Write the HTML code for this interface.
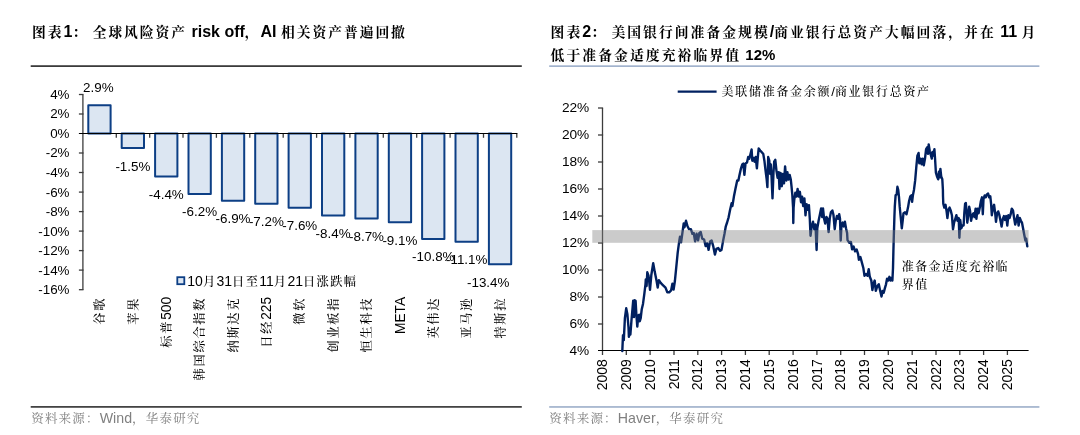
<!DOCTYPE html>
<html lang="zh-CN"><head><meta charset="utf-8"><title>图表</title>
<style>html,body{margin:0;padding:0;background:#fff;}body{width:1080px;height:435px;overflow:hidden;}svg{display:block;}text{font-family:"Liberation Sans", "Noto Serif CJK SC", sans-serif;}.t{font-weight:bold;fill:#000;}.ax{font-size:13.4px;fill:#000;}.dl{font-size:13.4px;fill:#000;}.src{fill:#808080;}.cat{fill:#000;font-weight:500;}</style></head><body>
<svg width="1080" height="435" viewBox="0 0 1080 435">
<rect width="1080" height="435" fill="#fff"/>
<text class="t" x="32.1" y="37" xml:space="preserve"><tspan font-size="13.8px" letter-spacing="1.93px">图表</tspan><tspan font-size="16px">1</tspan><tspan font-size="13.8px" letter-spacing="1.93px">：</tspan><tspan font-size="16px"> </tspan><tspan font-size="13.8px" letter-spacing="1.93px">全球风险资产</tspan><tspan font-size="16px"> risk off</tspan><tspan font-size="13.8px" letter-spacing="1.93px">，</tspan><tspan font-size="16px">AI </tspan><tspan font-size="13.8px" letter-spacing="1.93px">相关资产普遍回撤</tspan></text>
<rect x="30.7" y="65.3" width="491.1" height="1.6" fill="#262626"/>
<rect x="30.7" y="406.1" width="491.1" height="1.6" fill="#303030"/>
<text class="src" x="31.2" y="423.3" xml:space="preserve"><tspan font-size="12.5px" letter-spacing="1.2px">资料来源：</tspan><tspan font-size="14.2px">Wind</tspan><tspan font-size="12.5px" letter-spacing="1.2px">，华泰研究</tspan></text>
<text class="ax" x="69.5" y="98.9" text-anchor="end">4%</text>
<text class="ax" x="69.5" y="118.4" text-anchor="end">2%</text>
<text class="ax" x="69.5" y="137.9" text-anchor="end">0%</text>
<text class="ax" x="69.5" y="157.4" text-anchor="end">-2%</text>
<text class="ax" x="69.5" y="176.9" text-anchor="end">-4%</text>
<text class="ax" x="69.5" y="196.5" text-anchor="end">-6%</text>
<text class="ax" x="69.5" y="216.0" text-anchor="end">-8%</text>
<text class="ax" x="69.5" y="235.5" text-anchor="end">-10%</text>
<text class="ax" x="69.5" y="255.0" text-anchor="end">-12%</text>
<text class="ax" x="69.5" y="274.5" text-anchor="end">-14%</text>
<text class="ax" x="69.5" y="294.1" text-anchor="end">-16%</text>
<g fill="#dce6f2" stroke="#0d3f85" stroke-width="2" stroke-linejoin="round">
<rect x="88.3" y="105.2" width="22.3" height="28.3"/>
<rect x="121.7" y="133.5" width="22.3" height="14.6"/>
<rect x="155.1" y="133.5" width="22.3" height="42.9"/>
<rect x="188.5" y="133.5" width="22.3" height="60.5"/>
<rect x="221.9" y="133.5" width="22.3" height="67.3"/>
<rect x="255.2" y="133.5" width="22.3" height="70.3"/>
<rect x="288.6" y="133.5" width="22.3" height="74.2"/>
<rect x="322.0" y="133.5" width="22.3" height="82.0"/>
<rect x="355.4" y="133.5" width="22.3" height="84.9"/>
<rect x="388.8" y="133.5" width="22.3" height="88.8"/>
<rect x="422.1" y="133.5" width="22.3" height="105.4"/>
<rect x="455.5" y="133.5" width="22.3" height="108.3"/>
<rect x="488.9" y="133.5" width="22.3" height="130.8"/>
</g>
<g stroke="#3c3c3c" stroke-width="1.3" fill="none">
<path d="M82.9 94.5 V289.7"/>
<path d="M78.9 94.5 H83.5"/>
<path d="M78.9 114.0 H83.5"/>
<path d="M78.9 153.0 H83.5"/>
<path d="M78.9 172.5 H83.5"/>
<path d="M78.9 192.1 H83.5"/>
<path d="M78.9 211.6 H83.5"/>
<path d="M78.9 231.1 H83.5"/>
<path d="M78.9 250.6 H83.5"/>
<path d="M78.9 270.1 H83.5"/>
<path d="M78.9 289.7 H83.5"/>
<path d="M116.3 133.5 V137.8"/>
<path d="M149.7 133.5 V137.8"/>
<path d="M183.0 133.5 V137.8"/>
<path d="M216.4 133.5 V137.8"/>
<path d="M249.8 133.5 V137.8"/>
<path d="M283.2 133.5 V137.8"/>
<path d="M316.6 133.5 V137.8"/>
<path d="M349.9 133.5 V137.8"/>
<path d="M383.3 133.5 V137.8"/>
<path d="M416.7 133.5 V137.8"/>
<path d="M450.1 133.5 V137.8"/>
<path d="M483.5 133.5 V137.8"/>
<path d="M516.8 133.5 V137.8"/>
</g>
<path d="M78.9 133.5 H517.4" stroke="#000" stroke-width="1" fill="none"/>
<text class="dl" x="98.3" y="92.0" text-anchor="middle">2.9%</text>
<text class="dl" x="132.9" y="170.5" text-anchor="middle">-1.5%</text>
<text class="dl" x="166.3" y="198.8" text-anchor="middle">-4.4%</text>
<text class="dl" x="199.6" y="216.4" text-anchor="middle">-6.2%</text>
<text class="dl" x="233.0" y="223.2" text-anchor="middle">-6.9%</text>
<text class="dl" x="266.4" y="226.2" text-anchor="middle">-7.2%</text>
<text class="dl" x="299.8" y="230.1" text-anchor="middle">-7.6%</text>
<text class="dl" x="333.1" y="237.9" text-anchor="middle">-8.4%</text>
<text class="dl" x="366.5" y="240.8" text-anchor="middle">-8.7%</text>
<text class="dl" x="399.9" y="244.7" text-anchor="middle">-9.1%</text>
<text class="dl" x="433.3" y="261.3" text-anchor="middle">-10.8%</text>
<text class="dl" x="466.7" y="264.2" text-anchor="middle">-11.1%</text>
<text class="dl" x="488.2" y="286.7" text-anchor="middle">-13.4%</text>
<rect x="177.3" y="277.2" width="7" height="7" fill="#dce6f2" stroke="#0d3f85" stroke-width="1.8"/>
<text class="cat" x="187.3" y="286" xml:space="preserve"><tspan font-size="14px">10</tspan><tspan font-size="12.2px" letter-spacing="1.42px">月</tspan><tspan font-size="14px">31</tspan><tspan font-size="12.2px" letter-spacing="1.42px">日至</tspan><tspan font-size="14px">11</tspan><tspan font-size="12.2px" letter-spacing="1.42px">月</tspan><tspan font-size="14px">21</tspan><tspan font-size="12.2px" letter-spacing="1.42px">日涨跌幅</tspan></text>
<text class="cat" x="0" y="4.6" xml:space="preserve" text-anchor="end" transform="translate(99.5 296.8) rotate(-90)"><tspan font-size="12.2px" letter-spacing="1.75px">谷歌</tspan></text>
<text class="cat" x="0" y="4.6" xml:space="preserve" text-anchor="end" transform="translate(132.9 296.8) rotate(-90)"><tspan font-size="12.2px" letter-spacing="1.75px">苹果</tspan></text>
<text class="cat" x="0" y="4.6" xml:space="preserve" text-anchor="end" transform="translate(166.3 296.8) rotate(-90)"><tspan font-size="12.2px" letter-spacing="1.75px">标普</tspan><tspan font-size="13.8px">500</tspan></text>
<text class="cat" x="0" y="4.6" xml:space="preserve" text-anchor="end" transform="translate(199.6 296.8) rotate(-90)"><tspan font-size="12.2px" letter-spacing="1.75px">韩国综合指数</tspan></text>
<text class="cat" x="0" y="4.6" xml:space="preserve" text-anchor="end" transform="translate(233.0 296.8) rotate(-90)"><tspan font-size="12.2px" letter-spacing="1.75px">纳斯达克</tspan></text>
<text class="cat" x="0" y="4.6" xml:space="preserve" text-anchor="end" transform="translate(266.4 296.8) rotate(-90)"><tspan font-size="12.2px" letter-spacing="1.75px">日经</tspan><tspan font-size="13.8px">225</tspan></text>
<text class="cat" x="0" y="4.6" xml:space="preserve" text-anchor="end" transform="translate(299.8 296.8) rotate(-90)"><tspan font-size="12.2px" letter-spacing="1.75px">微软</tspan></text>
<text class="cat" x="0" y="4.6" xml:space="preserve" text-anchor="end" transform="translate(333.1 296.8) rotate(-90)"><tspan font-size="12.2px" letter-spacing="1.75px">创业板指</tspan></text>
<text class="cat" x="0" y="4.6" xml:space="preserve" text-anchor="end" transform="translate(366.5 296.8) rotate(-90)"><tspan font-size="12.2px" letter-spacing="1.75px">恒生科技</tspan></text>
<text class="cat" x="0" y="4.6" xml:space="preserve" text-anchor="end" transform="translate(399.9 296.8) rotate(-90)"><tspan font-size="13.8px">META</tspan></text>
<text class="cat" x="0" y="4.6" xml:space="preserve" text-anchor="end" transform="translate(433.3 296.8) rotate(-90)"><tspan font-size="12.2px" letter-spacing="1.75px">英伟达</tspan></text>
<text class="cat" x="0" y="4.6" xml:space="preserve" text-anchor="end" transform="translate(466.7 296.8) rotate(-90)"><tspan font-size="12.2px" letter-spacing="1.75px">亚马逊</tspan></text>
<text class="cat" x="0" y="4.6" xml:space="preserve" text-anchor="end" transform="translate(500.1 296.8) rotate(-90)"><tspan font-size="12.2px" letter-spacing="1.75px">特斯拉</tspan></text>
<text class="t" x="550.6" y="37" xml:space="preserve"><tspan font-size="13.8px" letter-spacing="2.03px">图表</tspan><tspan font-size="16px">2</tspan><tspan font-size="13.8px" letter-spacing="2.03px">：</tspan><tspan font-size="16px"> </tspan><tspan font-size="13.8px" letter-spacing="2.03px">美国银行间准备金规模</tspan><tspan font-size="16px">/</tspan><tspan font-size="13.8px" letter-spacing="2.03px">商业银行总资产大幅回落，并在</tspan><tspan font-size="16px"> 11 </tspan><tspan font-size="13.8px" letter-spacing="2.03px">月</tspan></text>
<text class="t" x="550.6" y="60" xml:space="preserve"><tspan font-size="13.8px" letter-spacing="2.08px">低于准备金适度充裕临界值</tspan><tspan font-size="15px"> 12%</tspan></text>
<rect x="549.2" y="65.3" width="490.2" height="1.7" fill="#a2b3cd"/>
<rect x="549.2" y="406.1" width="490.2" height="1.7" fill="#a2b3cd"/>
<text class="src" x="549.3" y="423.3" xml:space="preserve"><tspan font-size="12.5px" letter-spacing="1.2px">资料来源：</tspan><tspan font-size="14.2px">Haver</tspan><tspan font-size="12.5px" letter-spacing="1.2px">，华泰研究</tspan></text>
<g stroke="#3c3c3c" stroke-width="1.3" fill="none">
<path d="M602.5 108.0 V355.0"/>
<path d="M598.0 324.0 H603.1"/>
<path d="M598.0 297.0 H603.1"/>
<path d="M598.0 270.0 H603.1"/>
<path d="M598.0 243.0 H603.1"/>
<path d="M598.0 216.0 H603.1"/>
<path d="M598.0 189.0 H603.1"/>
<path d="M598.0 162.0 H603.1"/>
<path d="M598.0 135.0 H603.1"/>
<path d="M598.0 108.0 H603.1"/>
<path d="M626.3 350.5 V355.0"/>
<path d="M650.1 350.5 V355.0"/>
<path d="M674.0 350.5 V355.0"/>
<path d="M697.8 350.5 V355.0"/>
<path d="M721.6 350.5 V355.0"/>
<path d="M745.4 350.5 V355.0"/>
<path d="M769.2 350.5 V355.0"/>
<path d="M793.1 350.5 V355.0"/>
<path d="M816.9 350.5 V355.0"/>
<path d="M840.7 350.5 V355.0"/>
<path d="M864.5 350.5 V355.0"/>
<path d="M888.3 350.5 V355.0"/>
<path d="M912.2 350.5 V355.0"/>
<path d="M936.0 350.5 V355.0"/>
<path d="M959.8 350.5 V355.0"/>
<path d="M983.6 350.5 V355.0"/>
<path d="M1007.4 350.5 V355.0"/>
</g>
<path d="M598.0 350.5 H1028.6" stroke="#000" stroke-width="1" fill="none"/>
<text class="ax" style="font-size:13.7px" x="589.3" y="354.5" text-anchor="end">4%</text>
<text class="ax" style="font-size:13.7px" x="589.3" y="327.5" text-anchor="end">6%</text>
<text class="ax" style="font-size:13.7px" x="589.3" y="300.5" text-anchor="end">8%</text>
<text class="ax" style="font-size:13.7px" x="589.3" y="273.5" text-anchor="end">10%</text>
<text class="ax" style="font-size:13.7px" x="589.3" y="246.5" text-anchor="end">12%</text>
<text class="ax" style="font-size:13.7px" x="589.3" y="219.5" text-anchor="end">14%</text>
<text class="ax" style="font-size:13.7px" x="589.3" y="192.5" text-anchor="end">16%</text>
<text class="ax" style="font-size:13.7px" x="589.3" y="165.5" text-anchor="end">18%</text>
<text class="ax" style="font-size:13.7px" x="589.3" y="138.5" text-anchor="end">20%</text>
<text class="ax" style="font-size:13.7px" x="589.3" y="111.5" text-anchor="end">22%</text>
<text class="ax" style="font-size:14px" transform="translate(602.1 359.2) rotate(-90)" text-anchor="end" x="0" y="5">2008</text>
<text class="ax" style="font-size:14px" transform="translate(625.9 359.2) rotate(-90)" text-anchor="end" x="0" y="5">2009</text>
<text class="ax" style="font-size:14px" transform="translate(649.7 359.2) rotate(-90)" text-anchor="end" x="0" y="5">2010</text>
<text class="ax" style="font-size:14px" transform="translate(673.6 359.2) rotate(-90)" text-anchor="end" x="0" y="5">2011</text>
<text class="ax" style="font-size:14px" transform="translate(697.4 359.2) rotate(-90)" text-anchor="end" x="0" y="5">2012</text>
<text class="ax" style="font-size:14px" transform="translate(721.2 359.2) rotate(-90)" text-anchor="end" x="0" y="5">2013</text>
<text class="ax" style="font-size:14px" transform="translate(745.0 359.2) rotate(-90)" text-anchor="end" x="0" y="5">2014</text>
<text class="ax" style="font-size:14px" transform="translate(768.8 359.2) rotate(-90)" text-anchor="end" x="0" y="5">2015</text>
<text class="ax" style="font-size:14px" transform="translate(792.7 359.2) rotate(-90)" text-anchor="end" x="0" y="5">2016</text>
<text class="ax" style="font-size:14px" transform="translate(816.5 359.2) rotate(-90)" text-anchor="end" x="0" y="5">2017</text>
<text class="ax" style="font-size:14px" transform="translate(840.3 359.2) rotate(-90)" text-anchor="end" x="0" y="5">2018</text>
<text class="ax" style="font-size:14px" transform="translate(864.1 359.2) rotate(-90)" text-anchor="end" x="0" y="5">2019</text>
<text class="ax" style="font-size:14px" transform="translate(887.9 359.2) rotate(-90)" text-anchor="end" x="0" y="5">2020</text>
<text class="ax" style="font-size:14px" transform="translate(911.8 359.2) rotate(-90)" text-anchor="end" x="0" y="5">2021</text>
<text class="ax" style="font-size:14px" transform="translate(935.6 359.2) rotate(-90)" text-anchor="end" x="0" y="5">2022</text>
<text class="ax" style="font-size:14px" transform="translate(959.4 359.2) rotate(-90)" text-anchor="end" x="0" y="5">2023</text>
<text class="ax" style="font-size:14px" transform="translate(983.2 359.2) rotate(-90)" text-anchor="end" x="0" y="5">2024</text>
<text class="ax" style="font-size:14px" transform="translate(1007.0 359.2) rotate(-90)" text-anchor="end" x="0" y="5">2025</text>
<path d="M677.7 91.7 H716.6" stroke="#002060" stroke-width="2.2" fill="none"/>
<text class="cat" x="721.6" y="95.5" xml:space="preserve"><tspan font-size="12px" letter-spacing="1.7px">美联储准备金余额</tspan><tspan font-size="13.3px">/</tspan><tspan font-size="12px" letter-spacing="1.7px">商业银行总资产</tspan></text>
<text class="cat" x="901.8" y="270.6" xml:space="preserve"><tspan font-size="12px" letter-spacing="1.4px">准备金适度充裕临</tspan></text>
<text class="cat" x="901.8" y="288.6" xml:space="preserve"><tspan font-size="12px" letter-spacing="1.4px">界值</tspan></text>
<path d="M622.3 351.1 L623.0 335.1 L623.8 340.1 L624.9 318.1 L626.2 308.3 L627.4 314.3 L628.5 327.5 L628.9 336.9 L629.6 331.8 L630.4 334.5 L631.5 320.0 L632.6 307.7 L633.2 300.7 L634.0 317.1 L634.7 300.2 L635.6 300.7 L636.4 315.2 L637.3 326.6 L638.3 315.2 L639.2 314.7 L639.8 321.3 L640.7 318.1 L641.7 309.6 L643.0 303.9 L644.3 294.1 L645.5 284.1 L645.8 279.4 L646.6 286.0 L647.3 272.3 L648.5 275.7 L649.2 281.3 L650.0 289.8 L651.3 275.3 L653.2 263.1 L654.7 271.6 L656.6 281.0 L657.7 287.6 L658.9 280.1 L660.7 282.9 L662.6 284.8 L665.5 287.6 L667.3 292.3 L669.2 292.3 L671.1 290.4 L672.4 283.8 L673.6 289.5 L674.9 281.0 L676.2 267.8 L677.7 252.7 L679.2 241.4 L680.0 236.7 L681.1 242.3 L682.4 232.9 L683.7 223.5 L684.5 227.3 L686.0 220.7 L687.5 226.3 L689.0 229.1 L690.9 229.1 L692.4 233.8 L693.7 232.9 L695.1 241.4 L696.6 233.8 L698.1 240.4 L699.4 232.9 L700.7 232.0 L702.2 238.6 L704.1 239.5 L705.6 246.1 L707.1 243.3 L708.6 249.9 L710.1 241.4 L711.6 240.4 L713.2 246.1 L714.9 254.6 L716.4 248.9 L718.2 248.0 L720.1 250.8 L721.5 249.9 L723.0 241.4 L724.5 233.8 L725.8 226.3 L727.1 222.5 L728.6 217.3 L730.1 209.8 L731.6 203.2 L732.4 206.0 L733.9 196.6 L735.4 189.0 L737.2 180.5 L738.4 180.5 L739.5 174.9 L741.0 168.3 L742.3 164.5 L743.3 163.6 L744.4 174.9 L745.5 163.6 L747.0 162.6 L748.2 157.0 L749.3 158.8 L750.5 154.1 L751.6 149.4 L752.3 160.7 L753.5 157.9 L754.6 161.7 L755.7 157.0 L756.9 168.3 L758.0 155.1 L758.7 148.5 L760.2 150.4 L761.8 152.3 L763.3 154.1 L764.4 160.7 L765.5 170.2 L766.7 179.6 L767.4 187.1 L768.2 157.0 L769.3 160.7 L770.1 173.9 L770.8 164.5 L771.6 177.7 L772.5 198.4 L773.5 172.1 L774.2 161.7 L775.3 159.8 L776.5 171.1 L777.6 177.7 L778.7 172.1 L779.5 189.0 L780.6 173.0 L781.8 186.2 L782.9 173.9 L784.0 183.4 L785.1 166.4 L786.3 180.5 L787.4 172.1 L788.5 179.6 L789.7 174.9 L790.8 179.6 L791.5 186.2 L792.3 194.7 L793.1 207.9 L793.3 223.0 L793.6 207.9 L794.2 200.3 L795.3 192.8 L796.5 196.6 L797.6 189.0 L798.7 196.6 L799.9 191.8 L801.0 202.2 L802.1 196.6 L803.2 206.0 L804.4 198.4 L805.5 215.4 L806.6 204.1 L807.8 209.8 L808.9 205.1 L809.8 218.8 L810.5 235.8 L811.7 226.4 L813.0 221.7 L814.3 229.2 L815.5 224.5 L816.6 250.0 L817.3 228.3 L818.6 220.7 L820.0 214.1 L821.1 208.5 L822.2 217.0 L823.0 208.5 L824.1 218.8 L825.2 223.6 L826.4 217.0 L827.5 218.8 L828.6 232.1 L829.8 217.9 L830.9 212.3 L832.4 210.4 L833.5 215.1 L834.7 229.2 L835.8 220.7 L836.9 216.0 L838.1 218.8 L839.2 214.1 L840.0 218.8 L840.7 240.5 L841.5 224.5 L842.6 222.6 L843.7 226.4 L844.9 221.7 L846.0 228.3 L847.1 233.0 L847.5 240.0 L849.4 242.8 L850.9 241.9 L852.1 249.4 L853.6 246.6 L855.1 251.3 L856.6 249.4 L858.1 254.1 L858.9 259.8 L860.4 257.0 L861.9 262.6 L863.4 268.3 L864.5 275.8 L866.0 273.9 L867.5 275.8 L868.7 269.2 L869.8 276.8 L871.3 280.5 L872.4 290.0 L873.6 283.4 L874.7 280.5 L875.8 290.9 L877.3 286.2 L878.8 284.3 L880.0 290.0 L881.5 296.6 L882.6 290.9 L883.7 292.8 L884.9 288.1 L886.0 284.3 L887.1 278.6 L888.3 280.5 L889.4 276.8 L890.5 280.5 L891.7 277.7 L892.4 280.5 L893.0 268.3 L893.4 251.3 L893.7 240.0 L894.4 217.0 L894.8 206.7 L895.6 195.3 L896.7 194.4 L897.4 186.8 L898.2 189.7 L899.0 197.2 L899.7 206.7 L900.7 217.0 L901.8 228.3 L902.9 218.8 L903.5 213.2 L905.0 212.3 L906.5 214.2 L908.0 207.6 L909.1 201.0 L910.3 196.3 L911.4 195.3 L912.1 201.9 L912.9 195.3 L914.0 189.7 L915.2 180.2 L916.3 167.1 L917.4 155.7 L918.6 152.9 L919.3 163.3 L920.5 158.6 L921.6 164.2 L922.7 158.6 L923.8 165.2 L925.0 158.6 L926.1 149.1 L927.2 147.3 L928.0 153.8 L928.7 144.4 L929.9 152.0 L931.0 155.7 L931.8 158.6 L932.5 152.0 L933.3 155.7 L934.4 149.1 L935.1 159.5 L935.9 172.7 L937.0 176.5 L938.2 179.3 L938.9 171.8 L939.7 177.4 L940.4 168.9 L941.2 176.5 L942.3 179.3 L942.9 189.7 L943.0 196.3 L943.3 203.8 L944.3 207.6 L945.5 204.8 L946.6 211.4 L947.4 218.0 L948.5 209.5 L949.6 207.6 L950.7 210.4 L951.9 215.2 L953.0 229.3 L954.1 222.7 L955.3 218.9 L956.4 215.2 L957.5 220.8 L958.7 218.0 L959.4 237.8 L960.2 219.9 L961.3 228.4 L962.4 225.5 L963.6 225.5 L964.3 213.3 L965.1 203.8 L965.8 202.9 L966.6 211.4 L967.3 222.7 L968.5 213.3 L969.2 206.7 L970.0 210.4 L971.1 220.8 L972.2 215.2 L973.4 213.3 L974.5 217.1 L975.6 208.6 L976.4 218.9 L977.5 208.6 L978.6 213.3 L979.8 207.6 L980.9 201.0 L982.0 197.3 L982.8 214.2 L983.5 199.1 L984.7 195.4 L985.8 197.3 L986.9 194.4 L988.1 193.5 L989.2 197.3 L990.3 196.3 L991.1 203.8 L991.8 215.2 L993.0 207.6 L994.1 204.8 L995.2 213.3 L996.0 221.8 L997.1 213.3 L998.2 211.4 L999.4 215.2 L1000.5 220.8 L1001.6 226.5 L1002.8 218.9 L1003.9 216.1 L1005.0 219.9 L1006.2 216.1 L1007.3 225.5 L1008.4 215.2 L1009.6 218.0 L1010.7 214.2 L1011.8 208.6 L1013.0 210.4 L1014.1 218.0 L1015.2 224.6 L1016.4 219.9 L1017.5 215.2 L1018.6 225.5 L1019.8 218.0 L1020.9 220.8 L1022.0 222.7 L1023.1 228.4 L1024.3 235.0 L1025.4 240.6 L1026.2 238.7 L1027.3 246.3" stroke="#002060" stroke-width="2.4" fill="none" stroke-linejoin="round" stroke-linecap="round"/>
<rect x="592.3" y="230.1" width="436.3" height="12.7" fill="#808080" fill-opacity="0.41"/>
</svg></body></html>
